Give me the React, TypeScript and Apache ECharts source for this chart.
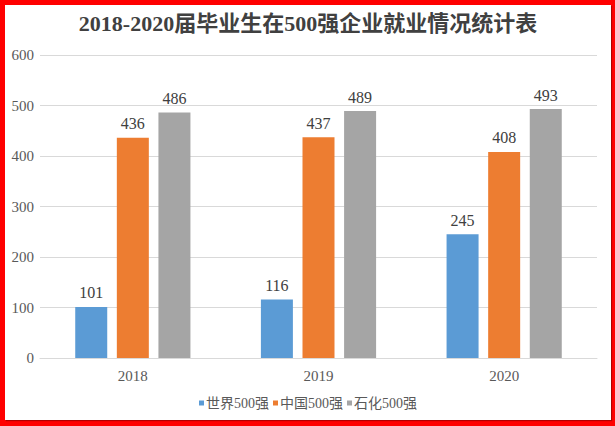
import React, { useEffect, useRef } from "react";
import * as echarts from "echarts";

const categories = ["2018", "2019", "2020"];
const world500 = [101, 116, 245];
const china500 = [436, 437, 408];
const petro500 = [486, 489, 493];
const seriesNames = ["世界500强", "中国500强", "石化500强"];

const FONT = "'Liberation Serif', 'Times New Roman', 'Noto Sans CJK SC', serif";

export default function App() {
  const ref = useRef<HTMLDivElement>(null);
  useEffect(() => {
    if (!ref.current) return;
    const chart = echarts.init(ref.current, null, { renderer: "svg" });
    const label = {
      show: true,
      position: "top",
      distance: 6,
      fontFamily: FONT,
      fontSize: 16,
      color: "#404040",
    };
    chart.setOption({
      animation: false,
      backgroundColor: "#ffffff",
      title: {
        text: "2018-2020届毕业生在500强企业就业情况统计表",
        left: "center",
        top: 2,
        textStyle: {
          fontFamily: FONT,
          fontSize: 22,
          fontWeight: "bold",
          color: "#404040",
        },
      },
      legend: {
        data: seriesNames,
        bottom: 5,
        left: "center",
        icon: "rect",
        itemWidth: 5,
        itemHeight: 5,
        itemGap: 4,
        textStyle: { fontFamily: FONT, fontSize: 14, color: "#595959", padding: [0, 0, 0, -3] },
      },
      grid: { left: 35, right: 14, top: 50, bottom: 62, containLabel: false },
      xAxis: {
        type: "category",
        data: categories,
        axisLine: { show: true, lineStyle: { color: "#d9d9d9" } },
        axisTick: { show: false },
        axisLabel: { fontFamily: FONT, fontSize: 15, color: "#595959", margin: 10 },
      },
      yAxis: {
        type: "value",
        min: 0,
        max: 600,
        interval: 100,
        axisLine: { show: false },
        axisTick: { show: false },
        axisLabel: { fontFamily: FONT, fontSize: 15, color: "#595959", margin: 6 },
        splitLine: { lineStyle: { color: "#d9d9d9" } },
      },
      series: [
        { name: seriesNames[0], type: "bar", data: world500, barWidth: 32, barGap: "30%", itemStyle: { color: "#5B9BD5" }, label },
        { name: seriesNames[1], type: "bar", data: china500, barWidth: 32, barGap: "30%", itemStyle: { color: "#ED7D31" }, label },
        { name: seriesNames[2], type: "bar", data: petro500, barWidth: 32, barGap: "30%", itemStyle: { color: "#A5A5A5" }, label },
      ],
    });
    return () => chart.dispose();
  }, []);
  return (
    <div style={{ position: "fixed", left: 0, top: 0, width: 615, height: 426, background: "#ff0000" }}>
      <div
        style={{
          position: "absolute",
          left: 5,
          top: 5,
          width: 606,
          height: 415,
          background: "#ffffff",
          boxShadow: "1px 1px 1px rgba(0,0,0,0.3)",
        }}
      >
        <div ref={ref} style={{ width: 606, height: 415 }} />
      </div>
    </div>
  );
}
